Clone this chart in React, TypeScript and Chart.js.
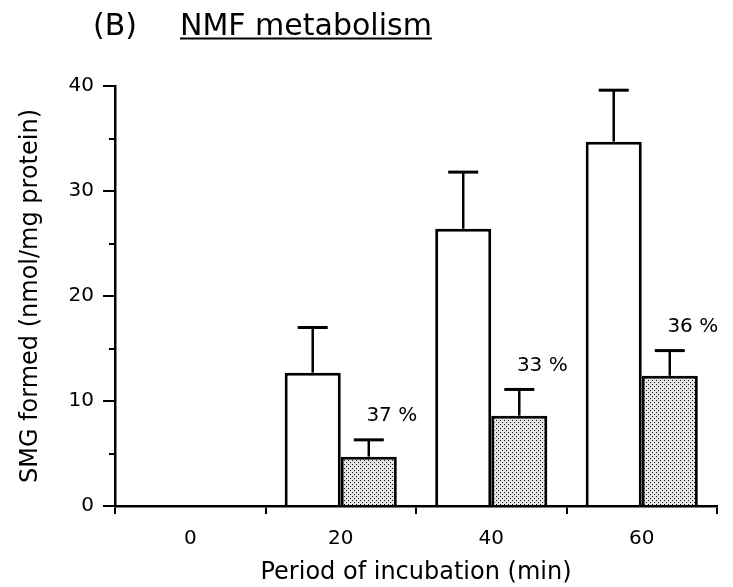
import React, { useEffect, useRef } from "react";
import { Chart, registerables } from "chart.js";

Chart.register(...registerables);

const categories = ["0", "20", "40", "60"];
const controlValues = [null, 12.7, 26.4, 34.7];
const controlErrors = [null, 4.3, 5.4, 4.9];
const treatedValues = [null, 4.7, 8.6, 12.4];
const treatedErrors = [null, 1.6, 2.5, 2.4];
const percentLabels = ["", "37 %", "33 %", "36 %"];
const minorTickValues = [5, 15, 25, 35];

const FONT = "DejaVu Sans";

function makeStipple(): CanvasPattern | string {
  const c = document.createElement("canvas");
  c.width = 4;
  c.height = 4;
  const g = c.getContext("2d");
  if (!g) return "#ccc";
  g.fillStyle = "#e6e6e6";
  g.fillRect(0, 0, 4, 4);
  g.fillStyle = "#111111";
  g.fillRect(0, 0, 1, 1);
  g.fillRect(2, 2, 1, 1);
  const p = g.createPattern(c, "repeat");
  return p || "#ccc";
}

export default function App() {
  const ref = useRef<HTMLCanvasElement | null>(null);

  useEffect(() => {
    const canvas = ref.current;
    if (!canvas) return;

    const errorPlugin = {
      id: "errorBars",
      afterDatasetsDraw(chart: any) {
        const ctx = chart.ctx;
        const y = chart.scales.y;
        const sets = [
          { values: controlValues, errors: controlErrors, labels: null as string[] | null },
          { values: treatedValues, errors: treatedErrors, labels: percentLabels },
        ];
        ctx.save();
        ctx.strokeStyle = "#000";
        ctx.fillStyle = "#000";
        sets.forEach((s, i) => {
          const meta = chart.getDatasetMeta(i);
          meta.data.forEach((el: any, j: number) => {
            const v = s.values[j];
            const e = s.errors[j];
            if (v == null || e == null) return;
            const top = y.getPixelForValue(v + e);
            ctx.lineWidth = 2.5;
            ctx.beginPath();
            ctx.moveTo(el.x, el.y);
            ctx.lineTo(el.x, top);
            ctx.stroke();
            ctx.lineWidth = 3;
            ctx.beginPath();
            ctx.moveTo(el.x - 15, top);
            ctx.lineTo(el.x + 15, top);
            ctx.stroke();
            if (s.labels && s.labels[j]) {
              ctx.font = `20px "${FONT}"`;
              ctx.textAlign = "center";
              ctx.textBaseline = "middle";
              ctx.fillText(s.labels[j], el.x + 23, top - 24);
            }
          });
        });
        ctx.restore();
      },
    };

    const minorTickPlugin = {
      id: "minorTicks",
      afterDraw(chart: any) {
        const ctx = chart.ctx;
        const y = chart.scales.y;
        const left = chart.chartArea.left;
        ctx.save();
        ctx.strokeStyle = "#000";
        ctx.lineWidth = 2;
        minorTickValues.forEach((v) => {
          const py = Math.round(y.getPixelForValue(v));
          ctx.beginPath();
          ctx.moveTo(left - 6, py);
          ctx.lineTo(left, py);
          ctx.stroke();
        });
        ctx.restore();
      },
    };

    const titlePlugin = {
      id: "panelTitle",
      afterDraw(chart: any) {
        const ctx = chart.ctx;
        ctx.save();
        ctx.fillStyle = "#000";
        ctx.strokeStyle = "#000";
        ctx.font = `30px "${FONT}"`;
        ctx.textAlign = "left";
        ctx.textBaseline = "alphabetic";
        ctx.fillText("(B)", 93, 35);
        const t = "NMF metabolism";
        ctx.fillText(t, 180, 35);
        const w = ctx.measureText(t).width;
        ctx.lineWidth = 2;
        ctx.beginPath();
        ctx.moveTo(180, 38.5);
        ctx.lineTo(180 + w, 38.5);
        ctx.stroke();
        ctx.restore();
      },
    };

    const chart = new Chart(canvas, {
      type: "bar",
      data: {
        labels: categories,
        datasets: [
          {
            label: "control",
            data: controlValues as any,
            backgroundColor: "#ffffff",
            borderColor: "#000000",
            borderWidth: 3,
            borderSkipped: "start",
            categoryPercentage: 0.745,
            barPercentage: 1.0,
          },
          {
            label: "treated",
            data: treatedValues as any,
            backgroundColor: makeStipple() as any,
            borderColor: "#000000",
            borderWidth: 3,
            borderSkipped: "start",
            categoryPercentage: 0.745,
            barPercentage: 1.0,
          },
        ],
      },
      options: {
        responsive: false,
        animation: false,
        devicePixelRatio: 1,
        layout: { padding: { top: 86, right: 16, left: 0, bottom: 0 } },
        plugins: {
          legend: { display: false },
          tooltip: { enabled: false },
          title: { display: false },
        },
        scales: {
          x: {
            type: "category",
            afterFit: (s: any) => {
              s.height = 81;
            },
            grid: {
              offset: true,
              drawOnChartArea: false,
              drawTicks: true,
              tickLength: 8,
              color: "#000",
              lineWidth: 2,
            },
            border: { display: true, color: "#000", width: 2.5 },
            ticks: {
              color: "#000",
              font: { family: FONT, size: 20 },
              padding: 13,
            },
            title: {
              display: true,
              text: "Period of incubation (min)",
              color: "#000",
              font: { family: FONT, size: 24 },
              padding: { top: 0, bottom: 0 },
            },
          },
          y: {
            min: 0,
            max: 40,
            afterFit: (s: any) => {
              s.width = 115;
            },
            grid: {
              drawOnChartArea: false,
              drawTicks: true,
              tickLength: 12,
              color: "#000",
              lineWidth: 2,
            },
            border: { display: true, color: "#000", width: 2.5 },
            ticks: {
              stepSize: 10,
              color: "#000",
              font: { family: FONT, size: 20 },
              padding: 9,
            },
            title: {
              display: true,
              text: "SMG formed (nmol/mg protein)",
              color: "#000",
              font: { family: FONT, size: 24 },
              padding: { top: 16, bottom: 0 },
            },
          },
        },
      },
      plugins: [errorPlugin, minorTickPlugin, titlePlugin],
    });

    return () => chart.destroy();
  }, []);

  return (
    <canvas
      ref={ref}
      width={733}
      height={587}
      style={{ position: "absolute", left: 0, top: 0, background: "#fff" }}
    />
  );
}
